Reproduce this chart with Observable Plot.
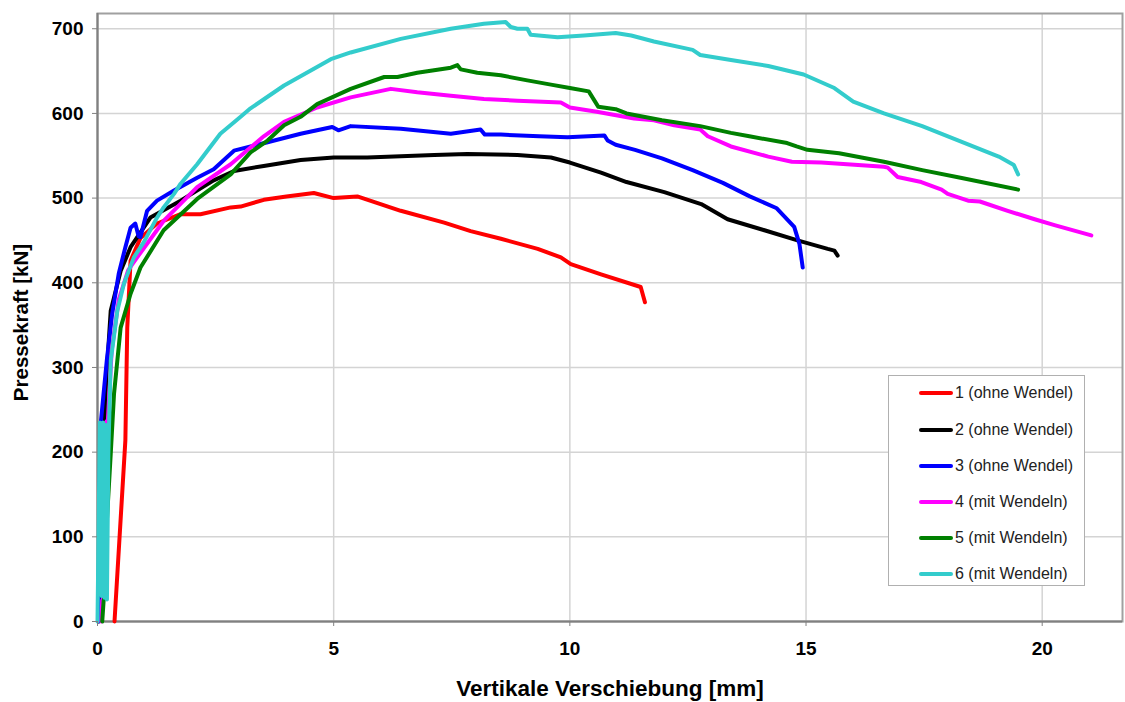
<!DOCTYPE html>
<html>
<head>
<meta charset="utf-8">
<script src="https://cdn.jsdelivr.net/npm/d3@7"></script>
<script src="https://cdn.jsdelivr.net/npm/@observablehq/plot@0.6"></script>
<style>
  html, body { margin: 0; padding: 0; background: #fff; }
  #wrap { position: relative; width: 1125px; height: 702px; font-family: "Liberation Sans", Arial, sans-serif; }
  #legend { position: absolute; left: 888px; top: 375px; width: 197px; height: 211px; background: #fff; border: 1px solid #b0b0b0; box-sizing: border-box; }
  .item { position: absolute; left: 30px; height: 20px; display: flex; align-items: center; font-size: 16px; color: #222; white-space: nowrap; }
  .swatch { width: 34px; height: 4px; border-radius: 2px; margin-right: 2px; }
</style>
</head>
<body>
<div id="wrap"><div id="chart"></div><div id="legend"></div></div>
<script>
// ---- data (x = Vertikale Verschiebung [mm], y = Pressekraft [kN]) ----
const seriesNames = ["1 (ohne Wendel)", "2 (ohne Wendel)", "3 (ohne Wendel)", "4 (mit Wendeln)", "5 (mit Wendeln)", "6 (mit Wendeln)"];
const seriesColors = ["#ff0000", "#000000", "#0000ff", "#ff00ff", "#008000", "#33cccc"];
const xTicks = [0, 5, 10, 15, 20];
const yTicks = [0, 100, 200, 300, 400, 500, 600, 700];

const s1 = [[0.36,0],[0.59,214],[0.63,347],[0.7,426],[0.91,453],[1.26,470],[1.76,481],[2.18,481],[2.82,489],[3.03,490],[3.52,498],[4.0,502],[4.58,506],[5.0,500],[5.5,502],[6.42,485],[7.34,471],[7.9,461],[8.54,452],[9.32,440],[9.81,430],[10.02,422],[10.66,410],[11.5,395],[11.59,377]];
const s2 = [[0.03,0],[0.1,150],[0.18,280],[0.28,367],[0.49,414],[0.7,442],[1.12,477],[1.76,497],[2.46,521],[2.89,532],[3.52,538],[4.3,545],[5.0,548],[5.71,548],[7.13,551],[7.83,552],[8.89,551],[9.6,548],[10.0,542],[10.66,530],[11.2,519],[12.0,507],[12.78,493],[13.34,475],[14.12,462],[14.82,450],[15.46,440],[15.6,438],[15.67,432]];
const s3 = [[0.02,0],[0.06,229],[0.13,270],[0.2,310],[0.31,363],[0.45,411],[0.59,442],[0.7,465],[0.8,470],[0.87,455],[0.91,454],[1.05,485],[1.26,497],[1.62,509],[2.11,524],[2.46,534],[2.89,556],[3.6,566],[4.3,576],[4.97,584],[5.1,580],[5.36,585],[6.42,582],[7.48,576],[8.11,581],[8.2,575],[8.54,575],[9.35,573],[9.95,572],[10.73,574],[10.8,568],[10.97,563],[11.38,557],[11.95,547],[12.6,533],[13.24,518],[13.81,502],[14.38,488],[14.75,466],[14.86,446],[14.93,418]];
const s4 = [[0.08,0],[0.1,25],[0.12,25],[0.16,150],[0.19,236],[0.22,238],[0.3,320],[0.45,380],[0.65,415],[0.84,430],[1.4,473],[2.11,513],[2.82,540],[3.52,573],[3.95,590],[4.65,607],[5.36,619],[6.21,629],[6.77,625],[7.48,621],[8.18,617],[8.89,615],[9.81,613],[10.0,607],[10.57,602],[11.36,594],[11.78,592],[12.21,586],[12.76,581],[12.92,573],[13.41,561],[14.2,549],[14.7,543],[15.32,542],[16.65,537],[16.73,536],[16.94,525],[17.44,519],[17.87,510],[18.0,505],[18.43,497],[18.68,496],[19.27,485],[19.84,475],[20.26,468],[21.04,456]];
const s5 = [[0.1,0],[0.13,25],[0.15,28],[0.2,120],[0.28,198],[0.35,269],[0.49,347],[0.7,387],[0.91,418],[1.4,462],[2.11,499],[2.82,528],[3.24,554],[3.6,568],[3.95,586],[4.3,596],[4.65,611],[5.36,629],[6.07,643],[6.35,643],[6.77,648],[7.48,654],[7.62,657],[7.69,652],[8.04,648],[8.54,645],[9.1,639],[9.6,634],[10.0,630],[10.4,626],[10.6,608],[10.97,605],[11.2,600],[11.95,592],[12.76,585],[13.41,577],[13.8,573],[14.6,565],[14.8,561],[15.03,557],[15.7,553],[16.65,543],[17.46,533],[18.27,524],[19.49,510]];
const s6 = [[0,0],[0.05,235],[0.09,30],[0.12,235],[0.15,28],[0.18,232],[0.2,26],[0.23,200],[0.28,308],[0.42,367],[0.56,399],[0.77,430],[0.98,448],[1.26,477],[1.4,489],[1.62,505],[1.76,517],[2.11,540],[2.6,576],[3.03,596],[3.24,606],[3.95,633],[4.94,664],[5.36,672],[6.42,688],[7.48,700],[8.18,706],[8.64,708],[8.75,702],[8.89,700],[9.1,700],[9.17,693],[9.74,690],[10.3,692],[10.97,695],[11.3,692],[11.78,685],[12.6,675],[12.76,669],[13.41,663],[14.2,656],[14.95,646],[15.6,630],[16.0,614],[16.65,600],[17.46,585],[18.27,567],[19.08,549],[19.4,539],[19.49,528]];

const allSeries = [s1, s2, s3, s4, s5, s6];
const rows = allSeries.flatMap((s, i) => s.map(([x, y]) => ({x, y, k: seriesNames[i]})));

const chart = Plot.plot({
  width: 1125, height: 702,
  marginLeft: 97, marginRight: 3, marginTop: 13, marginBottom: 81,
  style: {fontFamily: "'Liberation Sans', Arial, sans-serif", background: "#fff", color: "#000"},
  x: {domain: [0, 21.7]},
  y: {domain: [0, 718]},
  color: {domain: seriesNames, range: seriesColors},
  marks: [
    Plot.gridX(xTicks, {stroke: "#d4d4d4", strokeOpacity: 1, strokeWidth: 1.5}),
    Plot.gridY(yTicks, {stroke: "#d4d4d4", strokeOpacity: 1, strokeWidth: 1.5}),
    Plot.frame({stroke: "#a0a0a0", strokeWidth: 2}),
    Plot.ruleX([0], {stroke: "#808080", strokeWidth: 2}),
    Plot.ruleY([0], {stroke: "#808080", strokeWidth: 2}),
    Plot.line(rows, {x: "x", y: "y", z: "k", stroke: "k", strokeWidth: 4, strokeLinejoin: "round", strokeLinecap: "round"}),
    Plot.axisX(xTicks, {tickSize: 5, tickPadding: 15, fontSize: 19, fontWeight: "bold", stroke: "#808080", label: null}),
    Plot.axisY(yTicks, {tickSize: 5, tickPadding: 9, fontSize: 19, fontWeight: "bold", stroke: "#808080", label: null}),
    Plot.text(["Vertikale Verschiebung [mm]"], {frameAnchor: "bottom", dy: 67, lineAnchor: "middle", textAnchor: "middle", fontSize: 22.5, fontWeight: "bold", fill: "#000"}),
    Plot.text(["Pressekraft [kN]"], {frameAnchor: "left", dx: -76, dy: 5, lineAnchor: "middle", textAnchor: "middle", rotate: -90, fontSize: 20.5, fontWeight: "bold", fill: "#000"})
  ]
});
document.getElementById("chart").appendChild(chart);

// legend
const legend = document.getElementById("legend");
const tops = [8, 44.5, 80.5, 116.5, 153, 189];
seriesNames.forEach((n, i) => {
  const d = document.createElement("div");
  d.className = "item";
  d.style.top = (tops[i] - 1) + "px";
  d.innerHTML = `<span class="swatch" style="background:${seriesColors[i]}"></span><span>${n}</span>`;
  legend.appendChild(d);
});
</script>
</body>
</html>
